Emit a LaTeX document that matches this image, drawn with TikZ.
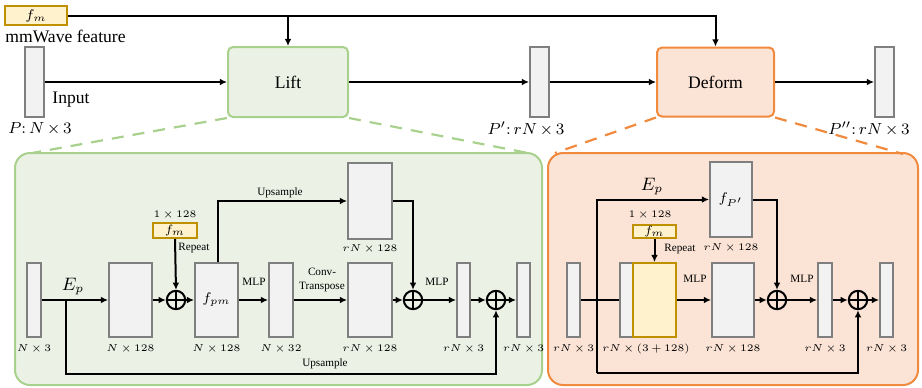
\documentclass[tikz,border=0pt]{standalone}
\usepackage{fontspec}
\setmainfont{Liberation Serif}
\usetikzlibrary{arrows.meta,calc}
\definecolor{bxgray}{HTML}{7F7F7F}
\definecolor{bxfill}{HTML}{F2F2F2}
\definecolor{ylfill}{HTML}{FFF2CC}
\definecolor{yldraw}{HTML}{BF9000}
\definecolor{grfill}{HTML}{EBF2E5}
\definecolor{grdraw}{HTML}{A9D18E}
\definecolor{orfill}{HTML}{FBE3D6}
\definecolor{ordraw}{HTML}{F08A3E}
\newcommand\tightmu{\medmuskip=3mu\relax}
\tikzset{
  bx/.style 2 args={draw=bxgray, fill=bxfill, line width=1pt, inner sep=0pt,
     minimum width=#1*0.5pt, minimum height=#2*0.5pt},
  yl/.style 2 args={draw=yldraw, fill=ylfill, line width=1pt, inner sep=0pt,
     minimum width=#1*0.5pt, minimum height=#2*0.5pt},
  arr/.style={line width=1pt, -{Latex[length=3.6pt,width=3.4pt]}},
  ln/.style={line width=1pt},
  opl/.style={circle, draw, line width=1pt, minimum size=9.2pt, inner sep=0pt,
     path picture={\draw[line width=1pt] (path picture bounding box.north) -- (path picture bounding box.south)
       (path picture bounding box.west) -- (path picture bounding box.east);}},
  big/.style={font=\fontsize{8.8}{10}\selectfont, inner sep=0pt},
  bigm/.style={font=\fontsize{8.4}{10}\selectfont\tightmu, inner sep=0pt},
  sm/.style={font=\fontsize{5.1}{6.2}\selectfont\tightmu, inner sep=0pt},
  ml/.style={font=\fontsize{5.6}{6.6}\selectfont, inner sep=0pt},
}
\begin{document}
\begin{tikzpicture}[x=0.5pt,y=-0.5pt]
\useasboundingbox (0,0) rectangle (922,387);

% ---------- panels ----------
\draw[draw=grdraw, fill=grfill, line width=1pt, rounded corners=7.5pt] (15,153) rectangle (542,385);
\draw[draw=ordraw, fill=orfill, line width=1pt, rounded corners=7.5pt] (548,153) rectangle (918,385);

% ---------- top row ----------
\node[yl={62}{19}, font=\fontsize{7}{8}\selectfont] (fm0) at (36,15.5) {$f_m$};
\node[big, anchor=west] (mmw) at (5,36) {mmWave feature};
\node[bx={19}{70}] (in0) at (34.5,82) {};
\node[big, anchor=west] (inp) at (52,100) {Input};
\node[bigm] (pl0) at (40,129) {$P\colon N\times 3$};
\node[draw=grdraw, fill=grfill, line width=1pt, rounded corners=2.5pt, minimum width=60pt, minimum height=35pt, big] (lift) at (288,82) {Lift};
\node[bx={19}{70}] (p1) at (539.5,82) {};
\node[bigm] (pl1) at (526,129) {$P'\colon rN\times 3$};
\node[draw=ordraw, fill=orfill, line width=1pt, rounded corners=2.5pt, minimum width=58.5pt, minimum height=34.5pt, big] (deform) at (715.5,82) {Deform};
\node[bx={19}{70}] (p2) at (884.5,82) {};
\node[bigm] (pl2) at (869,129) {$P''\colon rN\times 3$};

\draw[arr] (in0.east) -- (lift.west);
\draw[arr] (lift.east) -- (p1.west);
\draw[arr] (p1.east) -- (deform.west);
\draw[arr] (deform.east) -- (p2.west);
\draw[arr] (fm0.east) -- (fm0.east -| deform.north) -- (deform.north);
\draw[arr] (fm0.east -| lift.north) -- (lift.north);

% dashed zoom lines
\coordinate (gl) at (32,153);
\coordinate (gr) at (528,153);
\coordinate (ol) at (555,153);
\coordinate (or) at (903,154);
\draw[grdraw, line width=1.1pt, dash pattern=on 6pt off 4.5pt] (lift.south west) -- (gl);
\draw[grdraw, line width=1.1pt, dash pattern=on 6pt off 4.5pt] (lift.south east) -- (gr);
\draw[ordraw, line width=1.1pt, dash pattern=on 6pt off 4.5pt] (deform.south west) -- (ol);
\draw[ordraw, line width=1.1pt, dash pattern=on 6pt off 4.5pt] (deform.south east) -- (or);

% ---------- Lift panel ----------
\node[bx={14}{74}] (g0) at (34,300) {};
\node[sm] at (34,349) {$N\times 3$};
\node[bx={43}{74}] (g1) at (130.5,300) {};
\node[sm] at (130.5,349) {$N\times 128$};
\node[opl] (go1) at (176,300) {};
\node[yl={44}{15}, font=\fontsize{6}{7}\selectfont] (gfm) at (175,230.5) {$f_m$};
\node[sm] at (175,215) {$1\times 128$};
\node[ml, anchor=west] at (178,248) {Repeat};
\node[bx={43}{74}, font=\fontsize{7.5}{9}\selectfont] (gf) at (216.5,300) {$f_{pm}$};
\node[sm] at (216.5,349) {$N\times 128$};
\node[ml] at (254,282) {MLP};
\node[bx={24}{74}] (g3) at (281,300) {};
\node[sm] at (281,349) {$N\times 32$};
\node[ml, align=center] at (322,280) {Conv-\\Transpose};
\node[bx={44}{76}] (gup) at (370,201) {};
\node[sm] at (370,249) {$rN\times 128$};
\node[bx={44}{74}] (g4) at (370,300) {};
\node[sm] at (370,349) {$rN\times 128$};
\node[opl] (go2) at (413,300) {};
\node[ml] at (437,282) {MLP};
\node[bx={13}{74}] (g5) at (463.5,300) {};
\node[sm] at (463.5,349) {$rN\times 3$};
\node[opl] (go3) at (496,300) {};
\node[bx={13}{74}] (g6) at (523.5,300) {};
\node[sm] at (523.5,349) {$rN\times 3$};
\node[big] at (73,287) {$E_p$};
\node[ml] at (280,193) {Upsample};
\node[ml] at (325,364) {Upsample};

\coordinate (gj) at (66,300);
\coordinate (gb) at (66,374);
\draw[arr] (g0.east) -- (g1.west);
\draw[arr] (g1.east) -- (go1.west);
\draw[arr] (gfm.south) -- (go1.north);
\draw[arr] (go1.east) -- (gf.west);
\draw[arr] ([xshift=0.5pt]gf.north) |- (gup.west);
\draw[arr] (gf.east) -- (g3.west);
\draw[arr] (g3.east) -- (g4.west);
\draw[arr] (g4.east) -- (go2.west);
\draw[arr] (gup.east) -| (go2.north);
\draw[arr] (go2.east) -- (g5.west);
\draw[arr] (g5.east) -- (go3.west);
\draw[arr] (go3.east) -- (g6.west);
\draw[arr] (gj) -- (gb) -| (go3.south);

% ---------- Deform panel ----------
\node[bx={13}{74}] (o0) at (573.5,300) {};
\node[sm] at (573.5,349) {$rN\times 3$};
\node[bx={20}{74}] (ocg) at (630,300) {};
\node[yl={43}{74}] (oyl) at (654.5,300) {};
\node[sm] at (646,349) {$rN\times (3+128)$};
\node[yl={43}{13}, font=\fontsize{6}{7}\selectfont] (ofm) at (654.5,231.5) {$f_m$};
\node[sm] at (650,215) {$1\times 128$};
\node[ml, anchor=west] at (664,249) {Repeat};
\node[bx={42}{75}, font=\fontsize{7.5}{9}\selectfont] (ofp) at (731,199.5) {$f_{P'}$};
\node[sm] at (731,248) {$rN\times 128$};
\node[bx={42}{74}] (o2) at (733,300) {};
\node[sm] at (733,349) {$rN\times 128$};
\node[opl] (oo1) at (777,300) {};
\node[ml] at (695,279) {MLP};
\node[ml] at (802,279) {MLP};
\node[bx={14}{74}] (o3) at (825,300) {};
\node[sm] at (825,349) {$rN\times 3$};
\node[opl] (oo2) at (858,300) {};
\node[bx={13}{74}] (o4) at (886.5,300) {};
\node[sm] at (886.5,349) {$rN\times 3$};
\node[big] at (652,187) {$E_p$};

\coordinate (ob) at (597,373);
\draw[ln] (o0.east) -- (ocg.west);
\draw[arr] (ob) |- (ofp.west);
\draw[arr] (ob) -| (oo2.south);
\draw[arr] (ofm.south) -- (oyl.north);
\draw[arr] (oyl.east) -- (o2.west);
\draw[arr] (o2.east) -- (oo1.west);
\draw[arr] (ofp.east) -| (oo1.north);
\draw[arr] (oo1.east) -- (o3.west);
\draw[arr] (o3.east) -- (oo2.west);
\draw[arr] (oo2.east) -- (o4.west);
\end{tikzpicture}
\end{document}
